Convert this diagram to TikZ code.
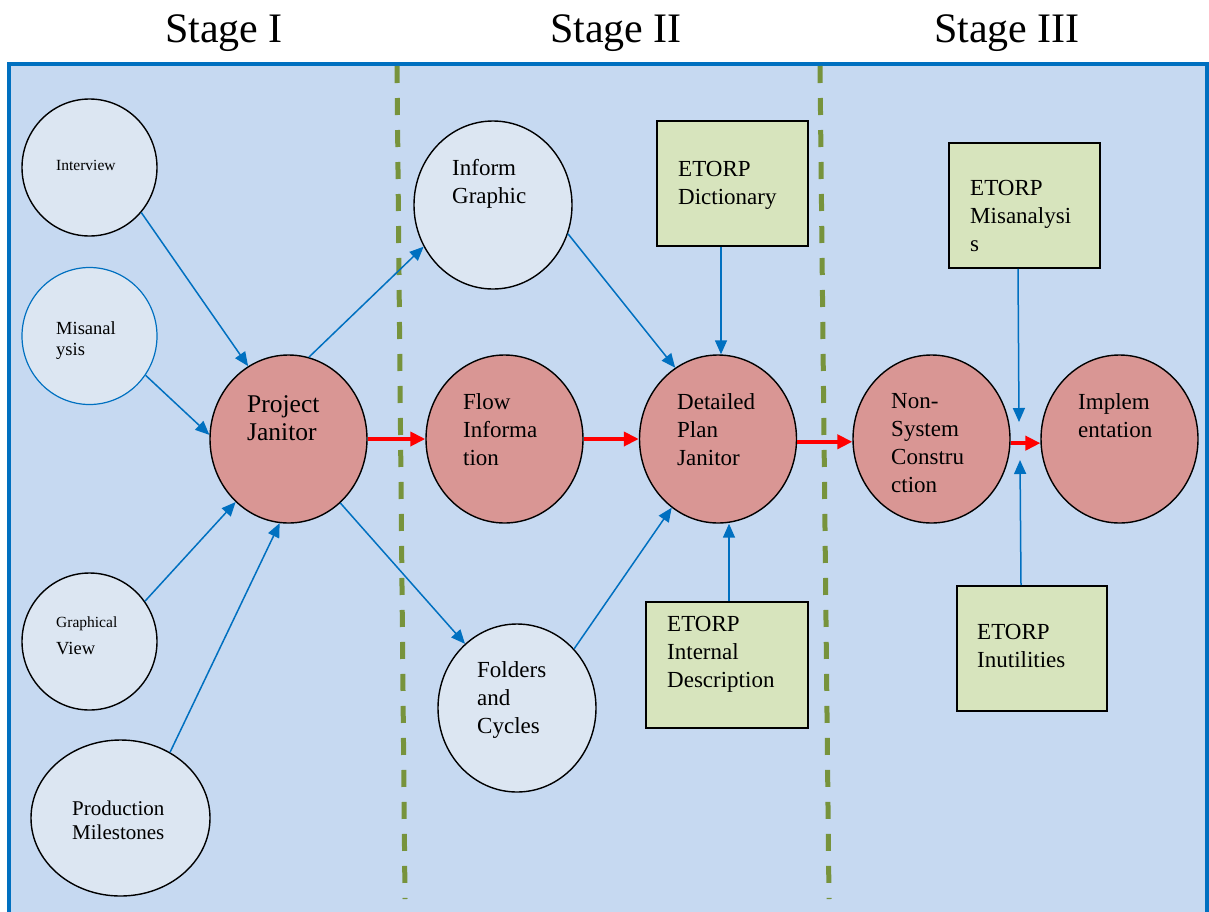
\documentclass[tikz,border=0pt]{standalone}
\usepackage{fontspec}
\setmainfont{Liberation Serif}
\usetikzlibrary{shapes.geometric,arrows.meta}
\definecolor{bgblue}{HTML}{C6D9F1}
\definecolor{frameblue}{HTML}{0070C0}
\definecolor{lightfill}{HTML}{DCE6F2}
\definecolor{redfill}{HTML}{D99694}
\definecolor{boxfill}{HTML}{D7E4BD}
\definecolor{dashgreen}{HTML}{77933C}
\begin{document}
\begin{tikzpicture}[x=1pt,y=-1pt,
  lightc/.style={ellipse, draw=black, line width=1.4pt, fill=lightfill, inner sep=0pt, minimum width=135pt, minimum height=137pt},
  bigc/.style={minimum width=158pt, minimum height=168pt},
  redc/.style={ellipse, draw=black, line width=1.4pt, fill=redfill, inner sep=0pt, minimum width=157pt, minimum height=168pt},
  etorpbox/.style={rectangle, draw=black, line width=1.8pt, fill=boxfill, inner sep=0pt},
  txt/.style={anchor=base west, align=left, inner sep=0pt, font=\fontsize{23}{28}\selectfont},
  stagetxt/.style={anchor=base, inner sep=0pt, font=\fontsize{42}{50}\selectfont},
  bluearrow/.style={draw=frameblue, line width=1.5pt, -{Triangle[length=14pt,width=12pt]}},
  redarrow/.style={draw=red, line width=4pt, -{Triangle[length=15pt,width=14pt]}},
  stageline/.style={draw=dashgreen, line width=5pt, dash pattern=on 17pt off 15pt}
]
\useasboundingbox (0,0) rectangle (1209,911);
\clip (0,0) rectangle (1209,911);
\fill[white] (0,0) rectangle (1209,911);
\draw[line width=4pt, draw=frameblue, fill=bgblue] (8.5,64) rectangle (1207,940);

% stage titles
\node[stagetxt] (s1) at (224,42) {Stage I};
\node[stagetxt] (s2) at (616,42) {Stage II};
\node[stagetxt] (s3) at (1007,42) {Stage III};

% stage separators
\draw[stageline] (397,66) -- (405,899);
\draw[stageline] (820,66) -- (829,899);

% nodes
\node[lightc] (interview) at (89.5,167.5) {};
\node[lightc, draw=frameblue, line width=1.2pt] (misan) at (89.5,336) {};
\node[lightc] (graph) at (89.5,641.5) {};
\node[lightc, minimum width=179pt, minimum height=156pt] (prod) at (120.5,818) {};
\node[redc] (pj) at (288.5,439) {};
\node[lightc, bigc] (inform) at (493,205) {};
\node[redc] (flow) at (504.5,439) {};
\node[redc] (dpj) at (718,439) {};
\node[lightc, bigc] (folders) at (517,708) {};
\node[redc] (nsc) at (931.5,439) {};
\node[redc] (impl) at (1119.5,439) {};
\node[etorpbox, minimum width=151pt, minimum height=125pt] (dict) at (732.5,183.5) {};
\node[etorpbox, minimum width=162pt, minimum height=126pt] (idesc) at (727,665) {};
\node[etorpbox, minimum width=151pt, minimum height=125pt] (emis) at (1024.5,205.5) {};
\node[etorpbox, minimum width=150pt, minimum height=125pt] (einu) at (1032,648.5) {};

% labels (anchor = baseline of the last line)
\node[txt, font=\fontsize{15.5}{19}\selectfont] (tinterview) at (56,170) {Interview};
\node[txt, font=\fontsize{18.5}{21}\selectfont] (tmisan) at (56,355) {Misanal\\ysis};
\node[txt] (tgraph) at (56,654) {\fontsize{15.5}{19}\selectfont Graphical\\[-1pt]\fontsize{18.5}{21}\selectfont View};
\node[txt, font=\fontsize{21}{24}\selectfont] (tprod) at (72,839) {Production\\Milestones};
\node[txt, font=\fontsize{25.5}{28}\selectfont] (tpj) at (247,440) {Project\\Janitor};
\node[txt] (tinform) at (452,203) {Inform\\Graphic};
\node[txt] (tflow) at (463,465) {Flow\\Informa\\tion};
\node[txt] (tdpj) at (677,465) {Detailed\\Plan\\Janitor};
\node[txt] (tfolders) at (477,733) {Folders\\and\\Cycles};
\node[txt] (tnsc) at (891,492) {Non-\\System\\Constru\\ction};
\node[txt] (timpl) at (1078,437) {Implem\\entation};
\node[txt] (tdict) at (678,204) {ETORP\\Dictionary};
\node[txt] (tidesc) at (667,687) {ETORP\\Internal\\Description};
\node[txt] (temis) at (970,251) {ETORP\\Misanalysi\\s};
\node[txt] (teinu) at (977,667) {ETORP\\Inutilities};

% free ends
\coordinate (mtip) at (1019,422);
\coordinate (utip) at (1020,460);

% blue connectors
\draw[bluearrow] (interview.-41.5) -- (pj.119.3);
\draw[bluearrow] (misan.-35.9) -- (pj.177);
\draw[bluearrow] (graph.36.8) -- (pj.230.4);
\draw[bluearrow] (prod.53.3) -- (pj.264.2);
\draw[bluearrow] (pj.76.1) -- (inform.211.7);
\draw[bluearrow] (pj.-51.5) -- (folders.129.7);
\draw[bluearrow] (inform.-21.7) -- (dpj.121.3);
\draw[bluearrow] ([xshift=-11.5pt]dict.south) -- ([xshift=3pt]dpj.north);
\draw[bluearrow] (folders.46.5) -- (dpj.236.1);
\draw[bluearrow] ([xshift=2pt]idesc.north) -- ([xshift=2pt]idesc.north |- dpj.south);
\draw[bluearrow] ([xshift=-6.5pt]emis.south) -- (mtip);
\draw[bluearrow] ([xshift=-11pt]einu.north) -- (utip);

% red connectors
\draw[redarrow] (pj.east) -- (flow.west);
\draw[redarrow] (flow.east) -- (dpj.west);
\draw[redarrow] (dpj.-2) -- (nsc.182);
\draw[redarrow] (nsc.-3) -- (impl.183);
\end{tikzpicture}
\end{document}
